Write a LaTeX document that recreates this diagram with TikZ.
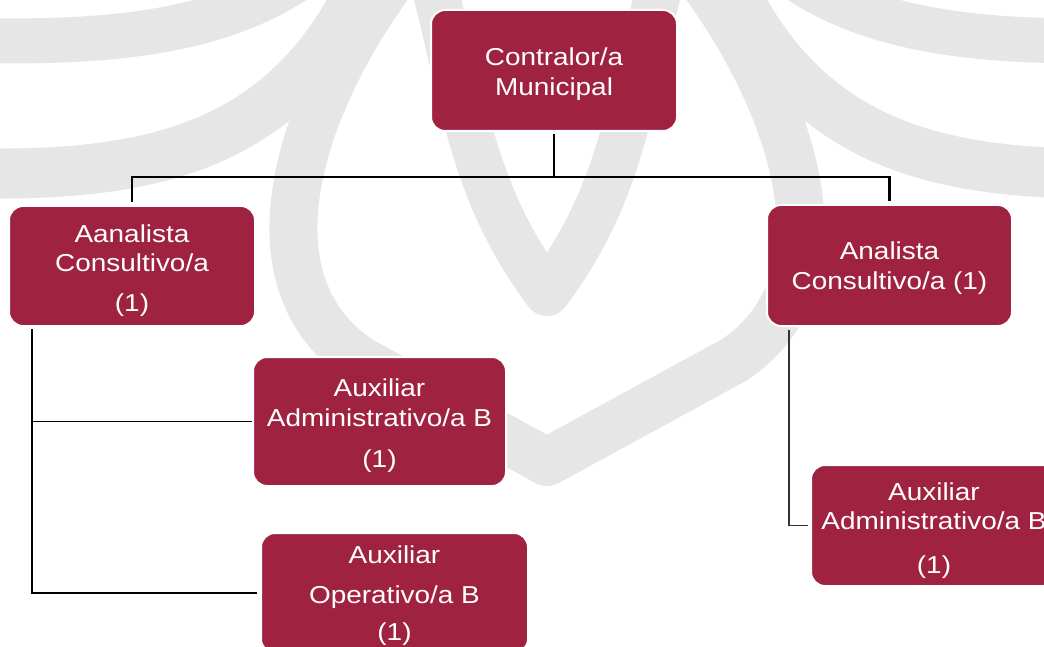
\documentclass[tikz,border=0pt]{standalone}
\usepackage{fontspec}
\setmainfont{Liberation Sans}[FakeStretch=1.14]
\definecolor{guinda}{HTML}{9F2241}
\definecolor{wm}{RGB}{230,230,230}
\definecolor{lnk}{HTML}{333333}
\begin{document}
\begin{tikzpicture}[x=1pt,y=-1pt,
  box/.style={draw=white, line width=2pt, fill=guinda, rounded corners=14pt, inner sep=0pt},
  boxtext/.style={text=white, align=center, inner sep=0pt, font=\fontsize{24.5}{29.5}\selectfont},
  wmline/.style={draw=wm, line join=round},
  mainconn/.style={draw=black, line width=2.7pt},
  subconn/.style={draw=lnk, line width=1.4pt}]
\useasboundingbox (0,0) rectangle (1044,647);
\clip (0,0) rectangle (1044,647);
\fill[white] (0,0) rectangle (1044,647);
% watermark emblem
\draw[wmline, line width=48pt] (400,-30) .. controls (300,100) and (240,280) .. (360,360) -- (547,462)
   -- (734,360) .. controls (854,280) and (794,100) .. (694,-30);
\draw[wmline, line width=46pt] (430,-30) .. controls (465,100) and (470,190) .. (547,293)
   .. controls (624,190) and (629,100) .. (664,-30);
\foreach \m in {1,-1}{
  \begin{scope}[shift={({547-547*\m},0)}, xscale=\m]
    \draw[wmline, line width=50pt] (-40,173) .. controls (150,178) and (290,150) .. (370,-30);
    \draw[wmline, line width=45pt] (-40,40) .. controls (120,45) and (230,30) .. (310,-30);
  \end{scope}
}
% boxes
\node[box, minimum width=246pt, minimum height=121pt] (top) at (554,70.5) {};
\node[box, minimum width=246pt, minimum height=120pt] (L1) at (132,266) {};
\node[box, minimum width=245pt, minimum height=121pt] (R1) at (889.5,265.5) {};
\node[box, minimum width=253pt, minimum height=129pt] (L2) at (379.5,421.5) {};
\node[box, minimum width=267pt, minimum height=120pt] (L3) at (394.5,593) {};
\node[box, minimum width=246pt, minimum height=121pt] (R2) at (934,525.5) {};
% texts
\node[boxtext] (topt) at ([yshift=-3.5pt]top.center) {Contralor/a\\Municipal};
\node[boxtext] (L1t) at ([yshift=-4.5pt]L1.center) {Aanalista\\Consultivo/a\\[10pt](1)};
\node[boxtext] (R1t) at ([yshift=-2.5pt]R1.center) {Analista\\Consultivo/a (1)};
\node[boxtext] (L2t) at ([yshift=-4.5pt]L2.center) {Auxiliar\\Administrativo/a B\\[12pt](1)};
\node[boxtext] (L3t) at ([yshift=-3pt]L3.center) {Auxiliar\\[10pt]Operativo/a B\\[8pt](1)};
\node[boxtext] (R2t) at ([yshift=-5pt]R2.center) {Auxiliar\\Administrativo/a B\\[14pt](1)};
% connectors
\coordinate (j) at (554,177);
\draw[mainconn, shorten <=2pt] (top.south) -- (j);
\draw[mainconn, shorten >=3pt] (j) -| (L1.north);
\draw[mainconn, shorten >=3pt] (j) -| (R1.north);
\draw[subconn, draw=black, shorten <=2pt] ([xshift=24pt]L1.south west) |- (L2.west);
\draw[subconn, draw=black, shorten <=2pt, shorten >=3pt] ([xshift=24pt]L1.south west) |- (L3.west);
\draw[subconn, shorten <=3pt, shorten >=2pt] ([xshift=23pt]R1.south west) |- (R2.west);
\end{tikzpicture}
\end{document}
